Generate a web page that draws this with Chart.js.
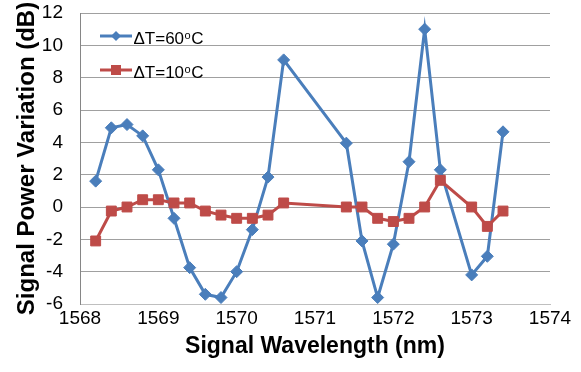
<!DOCTYPE html>
<html>
<head>
<meta charset="utf-8">
<script src="https://cdn.jsdelivr.net/npm/chart.js@4.4.0/dist/chart.umd.min.js"></script>
<style>
  html, body { margin: 0; padding: 0; background: #fff; }
  #c { display: block; }
</style>
</head>
<body>
<canvas id="c" width="581" height="372"></canvas>
<script>
const wavelengths = [1568.2, 1568.4, 1568.6, 1568.8, 1569.0, 1569.2, 1569.4, 1569.6, 1569.8, 1570.0, 1570.2, 1570.4, 1570.6, 1571.4, 1571.6, 1571.8, 1572.0, 1572.2, 1572.4, 1572.6, 1573.0, 1573.2, 1573.4];
const dt60 = [1.6, 4.9, 5.1, 4.4, 2.3, -0.7, -3.75, -5.4, -5.6, -4.0, -1.4, 1.85, 9.1, 3.95, -2.1, -5.6, -2.3, 2.8, 11.0, 2.3, -4.2, -3.05, 4.65];
const dt10 = [-2.1, -0.25, 0.0, 0.45, 0.45, 0.25, 0.25, -0.25, -0.5, -0.7, -0.7, -0.5, 0.25, 0.0, 0.0, -0.7, -0.9, -0.7, 0.0, 1.65, 0.0, -1.2, -0.25];
const xTicks = [1568, 1569, 1570, 1571, 1572, 1573, 1574];
const yTicks = [-6, -4, -2, 0, 2, 4, 6, 8, 10, 12];
const seriesNames = [['ΔT=60', 'o', 'C'], ['ΔT=10', 'o', 'C']];

const BLUE = '#4A7EBB';
const RED = '#BE4B48';
const FONT = "'Liberation Sans', Arial, sans-serif";

const toPts = (ys) => ys.map((y, i) => ({ x: wavelengths[i], y }));

const legendPlugin = {
  id: 'insideLegend',
  afterDatasetsDraw(chart) {
    const ctx = chart.ctx;
    const a = chart.chartArea;
    const items = [
      { color: BLUE, style: 'diamond', text: seriesNames[0], y: a.top + 23 },
      { color: RED, style: 'square', text: seriesNames[1], y: a.top + 57 }
    ];
    ctx.save();
    items.forEach(it => {
      const x0 = a.left + 20, x1 = a.left + 52, xm = (x0 + x1) / 2;
      ctx.strokeStyle = it.color;
      ctx.lineWidth = 3;
      ctx.beginPath(); ctx.moveTo(x0, it.y); ctx.lineTo(x1, it.y); ctx.stroke();
      ctx.fillStyle = it.color;
      ctx.beginPath();
      if (it.style === 'diamond') {
        const r = 5;
        ctx.moveTo(xm - r, it.y); ctx.lineTo(xm, it.y - r); ctx.lineTo(xm + r, it.y); ctx.lineTo(xm, it.y + r);
        ctx.closePath(); ctx.fill();
      } else {
        const s = 5;
        ctx.rect(xm - s, it.y - s, 2 * s, 2 * s); ctx.fill();
      }
      ctx.fillStyle = '#000';
      ctx.textBaseline = 'alphabetic';
      ctx.textAlign = 'left';
      const base = it.y + 7.8;
      let tx = x1 + 1.5;
      ctx.font = '17px ' + FONT;
      ctx.fillText(it.text[0], tx, base);
      tx += ctx.measureText(it.text[0]).width + 0.5;
      ctx.font = '11px ' + FONT;
      ctx.fillText(it.text[1], tx, base - 5);
      tx += ctx.measureText(it.text[1]).width + 0.5;
      ctx.font = '17px ' + FONT;
      ctx.fillText(it.text[2], tx, base);
    });
    ctx.restore();
  }
};

new Chart(document.getElementById('c'), {
  type: 'line',
  data: {
    datasets: [
      {
        label: 'ΔT=10oC',
        data: toPts(dt10),
        borderColor: RED,
        backgroundColor: RED,
        borderWidth: 3,
        pointStyle: 'rect',
        pointRadius: 7,
        pointBorderWidth: 1,
        pointBorderColor: RED,
        pointBackgroundColor: RED,
        tension: 0,
        order: 0
      },
      {
        label: 'ΔT=60oC',
        data: toPts(dt60),
        borderColor: BLUE,
        backgroundColor: BLUE,
        borderWidth: 3,
        pointStyle: 'rectRot',
        pointRadius: 6,
        pointBorderWidth: 1,
        pointBorderColor: BLUE,
        pointBackgroundColor: BLUE,
        tension: 0,
        order: 1
      }
    ]
  },
  options: {
    responsive: false,
    animation: false,
    layout: { padding: { left: 0, right: 31, top: 13, bottom: 0 } },
    plugins: { legend: { display: false }, tooltip: { enabled: false } },
    scales: {
      x: {
        type: 'linear',
        min: 1568, max: 1574,
        afterBuildTicks: (s) => { s.ticks = xTicks.map(v => ({ value: v })); },
        afterFit: (s) => { s.height = 68; s.paddingLeft = 0; s.paddingRight = 0; },
        grid: { display: false, drawTicks: false },
        border: { display: true, color: '#BFBFBF', width: 1 },
        ticks: { padding: 3, color: '#000', font: { family: FONT, size: 19 }, maxRotation: 0, autoSkip: false, callback: (v) => String(v) },
        title: { display: true, text: 'Signal Wavelength (nm)', color: '#000', font: { family: FONT, size: 23, weight: 'bold' }, padding: { top: 0, bottom: 12 } }
      },
      y: {
        min: -6, max: 12,
        afterBuildTicks: (s) => { s.ticks = yTicks.map(v => ({ value: v })); },
        afterFit: (s) => { s.width = 80; s.paddingTop = 0; s.paddingBottom = 0; },
        grid: { color: '#A0A0A0', lineWidth: 1, drawTicks: false },
        border: { display: true, color: '#868686', width: 1 },
        ticks: { padding: 17, color: '#000', font: { family: FONT, size: 19 }, autoSkip: false, callback: (v) => String(v) },
        title: { display: true, text: 'Signal Power Variation (dB)', color: '#000', font: { family: FONT, size: 24, weight: 'bold' }, padding: { top: 12.5, bottom: 0 } }
      }
    }
  },
  plugins: [legendPlugin]
});
</script>
</body>
</html>
